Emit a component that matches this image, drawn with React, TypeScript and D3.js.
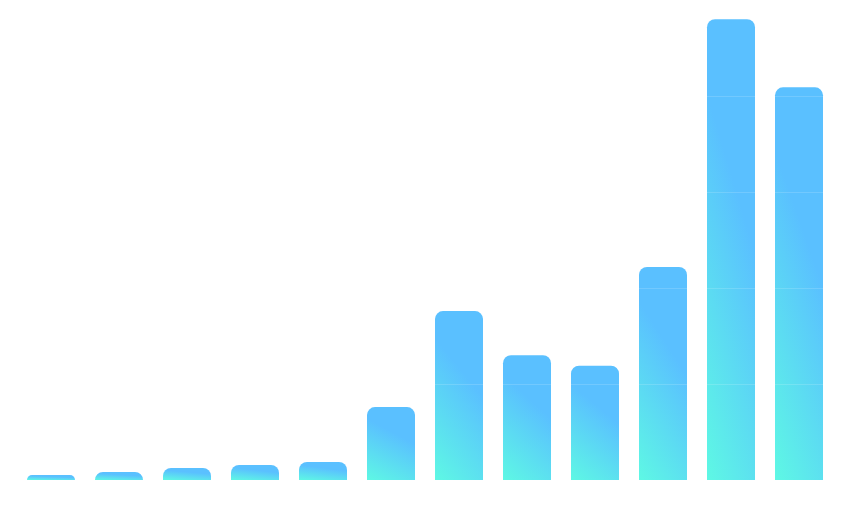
import React from "react";
import * as d3 from "d3";

const months = ["Jan", "Feb", "Mar", "Apr", "May", "Jun", "Jul", "Aug", "Sep", "Oct", "Nov", "Dec"];
const values = [5.2, 8.3, 12.5, 15.6, 18.8, 76, 176, 130, 119, 222, 480, 409];
const gridTicks = [100, 200, 300, 400];

const W = 850;
const H = 515;

function topRoundedRect(x: number, y: number, w: number, h: number, r: number) {
  const rr = Math.min(r, h, w / 2);
  const p = d3.path();
  p.moveTo(x, y + h);
  p.lineTo(x, y + rr);
  p.arcTo(x, y, x + rr, y, rr);
  p.lineTo(x + w - rr, y);
  p.arcTo(x + w, y, x + w, y + rr, rr);
  p.lineTo(x + w, y + h);
  p.closePath();
  return p.toString();
}

export default function App() {
  const x = d3
    .scaleBand<string>()
    .domain(months)
    .range([17, 833])
    .paddingInner(20 / 68)
    .paddingOuter(10 / 68);
  const y = d3.scaleLinear().domain([0, 500]).range([480, 0]);

  return (
    <div style={{ position: "absolute", left: 0, top: 0 }}>
      <svg width={W} height={H} style={{ display: "block", background: "#fff" }}>
        <defs>
          <linearGradient id="barGrad" x1="0" y1="1" x2="0.35" y2="0">
            <stop offset="0" stopColor="rgb(94,248,228)" />
            <stop offset="0.75" stopColor="rgb(90,192,255)" />
            <stop offset="1" stopColor="rgb(90,192,255)" />
          </linearGradient>
        </defs>
        {months.map((m, i) => {
          const bx = x(m)!;
          const by = y(values[i]);
          const bh = y(0) - by;
          return (
            <path key={m} d={topRoundedRect(bx, by, x.bandwidth(), bh, 8)} fill="url(#barGrad)" />
          );
        })}
        {gridTicks.map((t) => (
          <line
            key={t}
            x1={17}
            x2={833}
            y1={y(t) + 0.5}
            y2={y(t) + 0.5}
            stroke="#fff"
            strokeOpacity={0.15}
            strokeWidth={1}
          />
        ))}
        <line x1={17} x2={833} y1={y(0) + 0.5} y2={y(0) + 0.5} stroke="#fff" strokeWidth={1} />
        {months.map((m) => (
          <text
            key={m}
            x={x(m)! + x.bandwidth() / 2}
            y={505}
            textAnchor="middle"
            fill="#fff"
            fontSize={12}
            fontFamily="sans-serif"
          >
            {m}
          </text>
        ))}
      </svg>
    </div>
  );
}
